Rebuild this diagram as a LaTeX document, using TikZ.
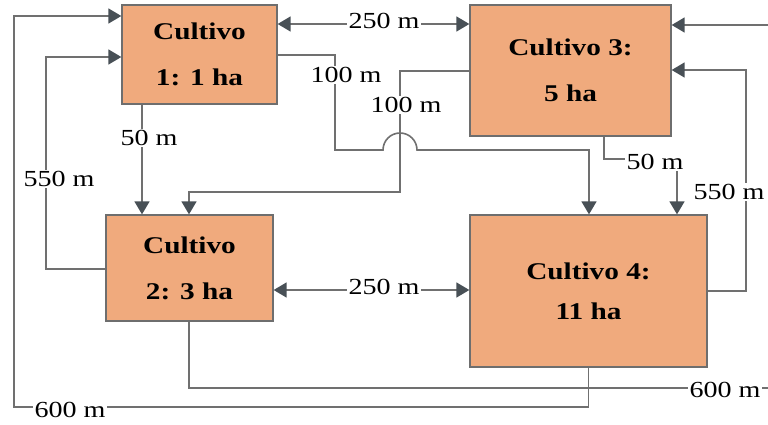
\documentclass[tikz,border=0pt]{standalone}
\usepackage{fontspec}
\setmainfont{Liberation Serif}
\usetikzlibrary{arrows.meta}
\definecolor{boxfill}{RGB}{240,170,125}
\definecolor{boxline}{RGB}{110,110,110}
\definecolor{wire}{RGB}{112,112,112}
\definecolor{tipc}{RGB}{72,80,86}
\newcommand\hs[1]{\scalebox{1.22}[1]{#1}}
\tikzset{
  cbox/.style={draw=boxline, line width=1.3pt, fill=boxfill, inner sep=0pt, align=center,
    font=\fontsize{24}{46}\selectfont\bfseries},
  wireline/.style={draw=wire, line width=1.6pt},
  tip/.style={-{Triangle[length=13pt,width=15pt,fill=tipc,color=tipc]}},
  dtip/.style={{Triangle[length=13pt,width=15pt,fill=tipc,color=tipc]}-{Triangle[length=13pt,width=15pt,fill=tipc,color=tipc]}},
  dist/.style={fill=white, inner sep=1.5pt, font=\fontsize{23}{24}\selectfont},
}
\begin{document}
\begin{tikzpicture}[x=1pt,y=-1pt]
\useasboundingbox (0,0) rectangle (768,425);
% boxes
\node[cbox, minimum width=155pt, minimum height=99pt] (b1) at (199.5,54.5) {\hs{Cultivo}\\\hs{1: 1 ha}};
\node[cbox, minimum width=201pt, minimum height=131pt] (b3) at (570.5,70.5) {\hs{Cultivo 3:}\\\hs{5 ha}};
\node[cbox, minimum width=167pt, minimum height=106pt] (b2) at (189.5,268) {\hs{Cultivo}\\\hs{2: 3 ha}};
\node[cbox, minimum width=237pt, minimum height=152pt, font=\fontsize{24}{40}\selectfont\bfseries] (b4) at (588.5,291) {\hs{Cultivo 4:}\\\hs{11 ha}};
% connector points
\coordinate (r1) at (768,388);
\coordinate (r2) at (768,25);
% 600 m left: 4 -> 1
\draw[wireline, tip] (b4.south) -- (b4.south |- 0,407) -- (14,407) -- (14,16) -- (b1.west |- 0,16);
\node[dist] (l600a) at (70,410) {\hs{600 m}};
% 550 m left: 2 -> 1
\draw[wireline, tip] (b2.west |- 0,269) -- (46,269) -- (46,57) -- (b1.west |- 0,57);
\node[dist] (l550a) at (59,179) {\hs{550 m}};
% 50 m: 1 -> 2
\draw[wireline, tip] (b1.south -| 142,0) -- (b2.north -| 142,0);
\node[dist] (l50a) at (149,138) {\hs{50 m}};
% 250 m top
\draw[wireline, dtip] (b1.east |- 0,24) -- (b3.west |- 0,24);
\node[dist] (l250a) at (384,21) {\hs{250 m}};
% 100 m: 1 -> 4 with hop
\draw[wireline, tip] (b1.east |- 0,55) -- (335,55) -- (335,150) -- (383,150)
  arc[start angle=180, end angle=0, radius=17pt] -- (589,150) -- (b4.north -| 589,0);
\node[dist] (l100a) at (346,75) {\hs{100 m}};
% 100 m: 3 -> 2
\draw[wireline, tip] (b3.west |- 0,71) -- (400,71) -- (400,192) -- (189,192) -- (b2.north -| 189,0);
\node[dist] (l100b) at (406,105) {\hs{100 m}};
% 50 m: 3 -> 4
\draw[wireline, tip] (b3.south -| 604,0) -- (604,159) -- (677,159) -- (b4.north -| 677,0);
\node[dist] (l50b) at (655,162) {\hs{50 m}};
% 550 m right: 4 -> 3
\draw[wireline, tip] (b4.east |- 0,291) -- (746,291) -- (746,70) -- (b3.east |- 0,70);
\node[dist] (l550b) at (729,192) {\hs{550 m}};
% 600 m right: 2 -> 3
\draw[wireline] (b2.south -| 189,0) -- (189,388) -- (r1);
\draw[wireline, tip] (r2) -- (b3.east |- 0,25);
\node[dist] (l600b) at (725,390) {\hs{600 m}};
% 250 m bottom
\draw[wireline, dtip] (b2.east |- 0,290) -- (b4.west |- 0,290);
\node[dist] (l250b) at (384,287) {\hs{250 m}};
\end{tikzpicture}
\end{document}
